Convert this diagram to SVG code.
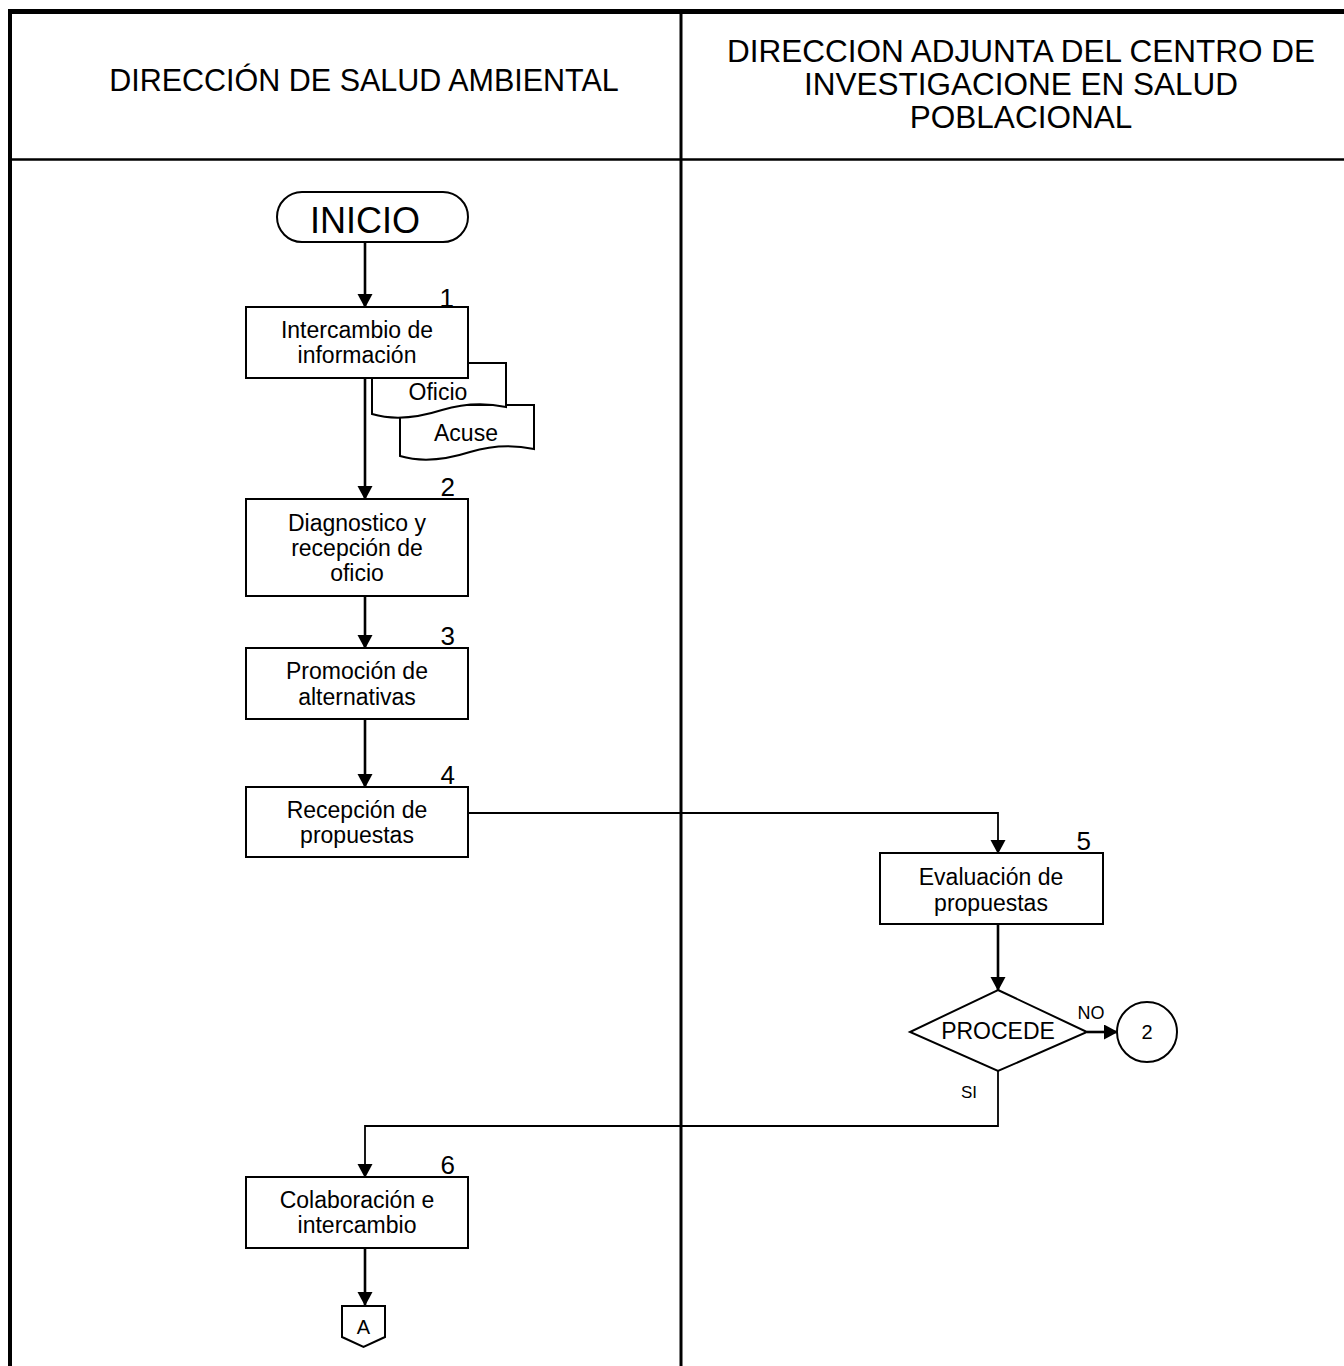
<svg xmlns="http://www.w3.org/2000/svg" width="1344" height="1366" viewBox="0 0 1344 1366">
<style>
text{font-family:"Liberation Sans",Arial,sans-serif;fill:#000}
.hdr{font-size:31.5px;text-anchor:middle}
.box{fill:#fff;stroke:#000;stroke-width:2}
.t{font-size:23px;text-anchor:middle}
.num{font-size:26px;text-anchor:end}
.ln{fill:none;stroke:#000;stroke-width:2.6}
.lnt{fill:none;stroke:#000;stroke-width:1.8}
.sm{font-size:17px;text-anchor:middle}
</style>
<defs>
<marker id="ah" markerWidth="16" markerHeight="16" refX="13" refY="7.5" orient="auto" markerUnits="userSpaceOnUse">
<path d="M0,0 L14,7.5 L0,15 Z" fill="#000"/>
</marker>
</defs>
<rect width="1344" height="1366" fill="#fff"/>
<g id="frame">
<line x1="8" y1="11.5" x2="1344" y2="11.5" stroke="#000" stroke-width="5"/>
<line x1="10" y1="9" x2="10" y2="1366" stroke="#000" stroke-width="4"/>
<line x1="10" y1="159.5" x2="1344" y2="159.5" stroke="#000" stroke-width="2.5"/>
<line x1="681" y1="11" x2="681" y2="1366" stroke="#000" stroke-width="3"/>
<text class="hdr" x="364" y="91" style="font-size:30.5px">DIRECCIÓN DE SALUD AMBIENTAL</text>
<text class="hdr" x="1021" y="62">DIRECCION ADJUNTA DEL CENTRO DE</text>
<text class="hdr" x="1021" y="95">INVESTIGACIONE EN SALUD</text>
<text class="hdr" x="1021" y="128">POBLACIONAL</text>
</g>
<g id="connectors">
<line class="ln" x1="365" y1="243" x2="365" y2="307" marker-end="url(#ah)"/>
<line class="ln" x1="365" y1="378" x2="365" y2="499" marker-end="url(#ah)"/>
<line class="ln" x1="365" y1="596" x2="365" y2="648" marker-end="url(#ah)"/>
<line class="ln" x1="365" y1="719" x2="365" y2="787" marker-end="url(#ah)"/>
<polyline class="lnt" points="468,813 998,813 998,853" marker-end="url(#ah)"/>
<line class="ln" x1="998" y1="924" x2="998" y2="990" marker-end="url(#ah)"/>
<line class="ln" x1="1087" y1="1032" x2="1117" y2="1032" marker-end="url(#ah)"/>
<polyline class="lnt" points="998,1071 998,1126 365,1126 365,1177" marker-end="url(#ah)"/>
<line class="ln" x1="365" y1="1248" x2="365" y2="1305" marker-end="url(#ah)"/>
<text class="sm" x="1091" y="1019" style="font-size:18px">NO</text>
<text class="sm" x="969" y="1098">SI</text>
</g>
<g id="inicio">
<rect x="277" y="192" width="191" height="50" rx="25" ry="25" class="box"/>
<text x="365" y="233" style="font-size:36px" text-anchor="middle">INICIO</text>
</g>
<g id="doc-acuse">
<path class="box" d="M400,405 H534 V449 C510,444 490,446 470,452 C445,460 420,462 400,456 Z"/>
<text class="t" x="466" y="441">Acuse</text>
</g>
<g id="doc-oficio">
<path class="box" d="M372,363 H506 V407 C482,402 462,404 442,410 C417,418 392,420 372,414 Z"/>
<text class="t" x="438" y="400">Oficio</text>
</g>
<g id="step1">
<rect x="246" y="307" width="222" height="71" class="box"/>
<text class="num" x="454" y="307">1</text>
<text class="t" x="357" y="338">Intercambio de</text>
<text class="t" x="357" y="363">información</text>
</g>
<g id="step2">
<rect x="246" y="499" width="222" height="97" class="box"/>
<text class="num" x="455" y="496">2</text>
<text class="t" x="357" y="531">Diagnostico y</text>
<text class="t" x="357" y="556">recepción de</text>
<text class="t" x="357" y="581">oficio</text>
</g>
<g id="step3">
<rect x="246" y="648" width="222" height="71" class="box"/>
<text class="num" x="455" y="645">3</text>
<text class="t" x="357" y="679">Promoción de</text>
<text class="t" x="357" y="705">alternativas</text>
</g>
<g id="step4">
<rect x="246" y="787" width="222" height="70" class="box"/>
<text class="num" x="455" y="784">4</text>
<text class="t" x="357" y="818">Recepción de</text>
<text class="t" x="357" y="843">propuestas</text>
</g>
<g id="step5">
<rect x="880" y="853" width="223" height="71" class="box"/>
<text class="num" x="1091" y="850">5</text>
<text class="t" x="991" y="885">Evaluación de</text>
<text class="t" x="991" y="911">propuestas</text>
</g>
<g id="decision">
<polygon class="box" points="998,990 1087,1032 998,1071 910,1032"/>
<text x="998" y="1039" style="font-size:23px" text-anchor="middle">PROCEDE</text>
</g>
<g id="conn2">
<circle class="box" cx="1147" cy="1032" r="30"/>
<text class="sm" x="1147" y="1039" style="font-size:20px">2</text>
</g>
<g id="step6">
<rect x="246" y="1177" width="222" height="71" class="box"/>
<text class="num" x="455" y="1174">6</text>
<text class="t" x="357" y="1208">Colaboración e</text>
<text class="t" x="357" y="1233">intercambio</text>
</g>
<g id="offpage-A">
<path class="box" d="M342,1306 H385 V1337 L363.5,1347 L342,1337 Z"/>
<text x="363.5" y="1334" style="font-size:20px" text-anchor="middle">A</text>
</g>
</svg>
